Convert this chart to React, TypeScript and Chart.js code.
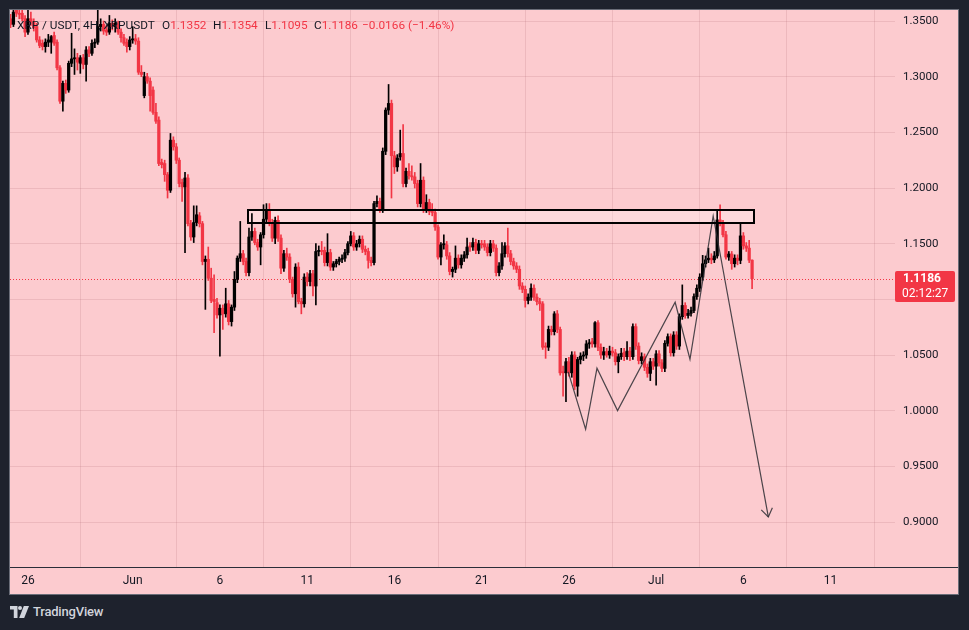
import React, { useEffect, useRef } from 'react';
import { Chart, registerables } from 'chart.js';

Chart.register(...registerables);

// XRP/USDT 4H bars as [open, high, low, close], oldest first (6 bars per day).
const lateMay = [
  [1.352, 1.356, 1.344, 1.347], [1.347, 1.362, 1.345, 1.358], [1.360, 1.364, 1.354, 1.357],
  [1.357, 1.360, 1.352, 1.356], [1.357, 1.360, 1.350, 1.352], [1.352, 1.355, 1.336, 1.340],
  [1.340, 1.362, 1.338, 1.352], [1.352, 1.358, 1.346, 1.349], [1.349, 1.352, 1.341, 1.344],
  [1.345, 1.348, 1.331, 1.333], [1.333, 1.336, 1.326, 1.328], [1.330, 1.333, 1.324, 1.327],
  [1.327, 1.334, 1.322, 1.331], [1.331, 1.338, 1.327, 1.333], [1.331, 1.337, 1.321, 1.336],
  [1.337, 1.340, 1.328, 1.330], [1.331, 1.333, 1.306, 1.308], [1.308, 1.310, 1.276, 1.278],
  [1.278, 1.296, 1.269, 1.294], [1.294, 1.297, 1.285, 1.288], [1.288, 1.314, 1.286, 1.312],
  [1.312, 1.339, 1.309, 1.316], [1.316, 1.325, 1.302, 1.317], [1.317, 1.321, 1.306, 1.313],
  [1.312, 1.319, 1.303, 1.317], [1.317, 1.320, 1.307, 1.311], [1.311, 1.327, 1.296, 1.324],
  [1.324, 1.327, 1.318, 1.321], [1.321, 1.333, 1.319, 1.330], [1.330, 1.334, 1.326, 1.331],
  [1.331, 1.362, 1.329, 1.345], [1.345, 1.352, 1.341, 1.347], [1.347, 1.350, 1.338, 1.341],
  [1.342, 1.346, 1.337, 1.340], [1.340, 1.355, 1.338, 1.348], [1.348, 1.351, 1.342, 1.345],
  [1.345, 1.352, 1.340, 1.348], [1.347, 1.350, 1.338, 1.340], [1.340, 1.343, 1.331, 1.335],
  [1.335, 1.338, 1.328, 1.330], [1.331, 1.334, 1.322, 1.327], [1.327, 1.336, 1.324, 1.333],
];

const earlyJune = [
  [1.333, 1.345, 1.330, 1.334], [1.334, 1.338, 1.329, 1.332], [1.332, 1.335, 1.302, 1.304],
  [1.304, 1.310, 1.300, 1.302], [1.283, 1.304, 1.281, 1.300], [1.300, 1.303, 1.294, 1.296],
  [1.296, 1.299, 1.269, 1.283], [1.288, 1.291, 1.266, 1.268], [1.268, 1.276, 1.258, 1.260],
  [1.261, 1.264, 1.220, 1.222], [1.223, 1.226, 1.218, 1.221], [1.222, 1.225, 1.206, 1.212],
  [1.212, 1.214, 1.191, 1.198], [1.198, 1.249, 1.196, 1.243], [1.243, 1.246, 1.234, 1.237],
  [1.237, 1.240, 1.222, 1.225], [1.225, 1.227, 1.201, 1.204], [1.205, 1.208, 1.188, 1.201],
  [1.201, 1.214, 1.142, 1.209], [1.209, 1.212, 1.166, 1.168], [1.168, 1.171, 1.153, 1.156],
  [1.156, 1.184, 1.151, 1.169], [1.169, 1.184, 1.166, 1.176], [1.175, 1.178, 1.165, 1.168],
  [1.168, 1.170, 1.131, 1.134], [1.134, 1.139, 1.091, 1.136], [1.136, 1.147, 1.117, 1.119],
  [1.119, 1.128, 1.097, 1.099], [1.100, 1.122, 1.070, 1.098], [1.097, 1.101, 1.083, 1.086],
  [1.086, 1.095, 1.049, 1.092], [1.092, 1.095, 1.073, 1.087], [1.087, 1.110, 1.084, 1.096],
  [1.096, 1.099, 1.077, 1.080], [1.080, 1.095, 1.076, 1.093], [1.093, 1.125, 1.090, 1.118],
  [1.118, 1.139, 1.115, 1.137], [1.137, 1.170, 1.134, 1.141], [1.141, 1.144, 1.131, 1.134],
  [1.134, 1.137, 1.121, 1.124],
];

const midJune = [
  [1.124, 1.164, 1.121, 1.156], [1.156, 1.177, 1.153, 1.161], [1.161, 1.164, 1.149, 1.151],
  [1.151, 1.154, 1.144, 1.147], [1.147, 1.160, 1.131, 1.158], [1.158, 1.185, 1.155, 1.172],
  [1.172, 1.186, 1.169, 1.180], [1.180, 1.186, 1.166, 1.169], [1.169, 1.172, 1.152, 1.155],
  [1.155, 1.174, 1.150, 1.171], [1.171, 1.175, 1.152, 1.155], [1.155, 1.158, 1.123, 1.128],
  [1.128, 1.144, 1.125, 1.141], [1.141, 1.146, 1.135, 1.138], [1.138, 1.141, 1.115, 1.118],
  [1.118, 1.120, 1.102, 1.105], [1.105, 1.132, 1.093, 1.129], [1.129, 1.133, 1.096, 1.098],
  [1.098, 1.101, 1.087, 1.096], [1.096, 1.123, 1.093, 1.120], [1.120, 1.124, 1.112, 1.116],
  [1.116, 1.126, 1.112, 1.123], [1.123, 1.126, 1.103, 1.112], [1.112, 1.150, 1.095, 1.143],
  [1.143, 1.148, 1.139, 1.144], [1.144, 1.152, 1.140, 1.143], [1.144, 1.147, 1.130, 1.133],
  [1.133, 1.159, 1.130, 1.142], [1.142, 1.145, 1.126, 1.129], [1.129, 1.134, 1.126, 1.132],
  [1.132, 1.136, 1.129, 1.134], [1.134, 1.138, 1.131, 1.136], [1.136, 1.140, 1.133, 1.137],
  [1.137, 1.145, 1.134, 1.142], [1.142, 1.152, 1.140, 1.150], [1.150, 1.161, 1.148, 1.157],
  [1.157, 1.160, 1.144, 1.147], [1.147, 1.153, 1.144, 1.150], [1.150, 1.157, 1.147, 1.154],
  [1.154, 1.157, 1.142, 1.145], [1.145, 1.148, 1.140, 1.143], [1.143, 1.146, 1.128, 1.135],
  [1.135, 1.138, 1.130, 1.133],
];

const juneRally = [
  [1.133, 1.188, 1.131, 1.186], [1.186, 1.193, 1.183, 1.188], [1.188, 1.191, 1.178, 1.181],
  [1.181, 1.236, 1.178, 1.233], [1.233, 1.272, 1.230, 1.270], [1.270, 1.293, 1.266, 1.276],
  [1.276, 1.279, 1.191, 1.229], [1.229, 1.233, 1.213, 1.219], [1.219, 1.230, 1.215, 1.227],
  [1.228, 1.252, 1.225, 1.231], [1.231, 1.257, 1.201, 1.204], [1.204, 1.218, 1.201, 1.215],
  [1.215, 1.222, 1.208, 1.211], [1.211, 1.220, 1.207, 1.210], [1.210, 1.214, 1.200, 1.204],
  [1.204, 1.207, 1.183, 1.186], [1.186, 1.222, 1.183, 1.207], [1.207, 1.210, 1.178, 1.181],
  [1.181, 1.194, 1.178, 1.187], [1.187, 1.190, 1.176, 1.179], [1.179, 1.186, 1.175, 1.178],
  [1.178, 1.181, 1.162, 1.165], [1.165, 1.167, 1.136, 1.138], [1.138, 1.151, 1.131, 1.149],
  [1.149, 1.158, 1.145, 1.150], [1.149, 1.152, 1.136, 1.139], [1.139, 1.142, 1.122, 1.125],
  [1.125, 1.129, 1.120, 1.127], [1.127, 1.148, 1.124, 1.137], [1.137, 1.140, 1.128, 1.131],
  [1.131, 1.140, 1.128, 1.137], [1.137, 1.143, 1.134, 1.140], [1.140, 1.155, 1.137, 1.147],
  [1.148, 1.151, 1.143, 1.147], [1.147, 1.155, 1.144, 1.151], [1.151, 1.154, 1.141, 1.144],
  [1.144, 1.153, 1.141, 1.150], [1.150, 1.153, 1.146, 1.149], [1.150, 1.153, 1.144, 1.147],
  [1.147, 1.150, 1.139, 1.142], [1.142, 1.153, 1.139, 1.150], [1.150, 1.153, 1.143, 1.146],
  [1.146, 1.149, 1.121, 1.124], [1.124, 1.133, 1.121, 1.130],
];

const lateJune = [
  [1.130, 1.151, 1.127, 1.141], [1.141, 1.151, 1.138, 1.148], [1.148, 1.164, 1.138, 1.141],
  [1.141, 1.144, 1.131, 1.134], [1.134, 1.137, 1.127, 1.130], [1.130, 1.133, 1.124, 1.127],
  [1.127, 1.130, 1.109, 1.112], [1.112, 1.115, 1.106, 1.109], [1.109, 1.112, 1.093, 1.099],
  [1.099, 1.105, 1.096, 1.102], [1.102, 1.114, 1.099, 1.110], [1.110, 1.113, 1.099, 1.102],
  [1.102, 1.105, 1.095, 1.098], [1.098, 1.101, 1.090, 1.096], [1.096, 1.098, 1.055, 1.057],
  [1.058, 1.061, 1.047, 1.057], [1.057, 1.076, 1.054, 1.073], [1.073, 1.076, 1.068, 1.071],
  [1.071, 1.089, 1.068, 1.087], [1.087, 1.090, 1.070, 1.073], [1.073, 1.075, 1.032, 1.034],
  [1.035, 1.040, 1.013, 1.034], [1.034, 1.047, 1.008, 1.044], [1.044, 1.048, 1.031, 1.034],
  [1.034, 1.053, 1.030, 1.050], [1.050, 1.053, 1.019, 1.022], [1.022, 1.048, 1.013, 1.046],
  [1.046, 1.052, 1.042, 1.049], [1.049, 1.053, 1.045, 1.050], [1.050, 1.063, 1.047, 1.060],
  [1.060, 1.064, 1.056, 1.061], [1.062, 1.065, 1.057, 1.060], [1.060, 1.080, 1.057, 1.079],
  [1.079, 1.081, 1.054, 1.057], [1.057, 1.060, 1.047, 1.050], [1.050, 1.057, 1.046, 1.053],
  [1.053, 1.056, 1.048, 1.050], [1.050, 1.058, 1.047, 1.0535], [1.0535, 1.057, 1.049, 1.052],
  [1.052, 1.055, 1.041, 1.044], [1.044, 1.051, 1.034, 1.0485], [1.0485, 1.056, 1.046, 1.0515],
  [1.0525, 1.056, 1.045, 1.0485], [1.0485, 1.062, 1.046, 1.0535], [1.0535, 1.057, 1.045, 1.0485],
  [1.0485, 1.078, 1.046, 1.0755], [1.0755, 1.078, 1.055, 1.058], [1.058, 1.061, 1.042, 1.045],
  [1.045, 1.052, 1.042, 1.0485], [1.0485, 1.051, 1.036, 1.039], [1.039, 1.042, 1.030, 1.0335],
  [1.0335, 1.047, 1.027, 1.044], [1.044, 1.047, 1.037, 1.040], [1.040, 1.054, 1.023, 1.051],
  [1.051, 1.054, 1.040, 1.043], [1.043, 1.046, 1.035, 1.038],
];

const earlyJuly = [
  [1.038, 1.063, 1.035, 1.0605], [1.0605, 1.069, 1.058, 1.0665], [1.0665, 1.069, 1.049, 1.052],
  [1.052, 1.071, 1.049, 1.068], [1.068, 1.071, 1.055, 1.058], [1.058, 1.087, 1.055, 1.0845],
  [1.0845, 1.113, 1.082, 1.0945], [1.0945, 1.097, 1.083, 1.0855], [1.0855, 1.091, 1.083, 1.0875],
  [1.0875, 1.093, 1.085, 1.090], [1.090, 1.105, 1.088, 1.1025], [1.1025, 1.113, 1.100, 1.110],
  [1.110, 1.123, 1.107, 1.120], [1.120, 1.1395, 1.117, 1.132], [1.132, 1.139, 1.129, 1.1355],
  [1.1355, 1.146, 1.133, 1.137], [1.137, 1.141, 1.132, 1.1355], [1.1355, 1.143, 1.133, 1.139],
  [1.139, 1.180, 1.137, 1.1713], [1.1713, 1.185, 1.166, 1.168], [1.168, 1.171, 1.156, 1.158],
  [1.158, 1.161, 1.136, 1.138], [1.138, 1.143, 1.135, 1.1407], [1.1407, 1.143, 1.127, 1.132],
  [1.132, 1.140, 1.129, 1.137], [1.137, 1.140, 1.131, 1.135], [1.135, 1.168, 1.132, 1.157],
  [1.157, 1.160, 1.145, 1.148], [1.148, 1.151, 1.143, 1.146], [1.146, 1.153, 1.133, 1.1352],
  [1.1352, 1.1354, 1.1095, 1.1186],
];

const candles = [...lateMay, ...earlyJune, ...midJune, ...juneRally, ...lateJune, ...earlyJuly];

// Time axis in days since 25 May 00:00.
const BARS_PER_DAY = 6;
const DAY_MIN = -0.03;
const DAY_MAX = 50.69;
const dateTickDays = [1, 7, 12, 17, 22, 27, 32, 37, 42, 47];
const dateTickLabels = ['26', 'Jun', '6', '11', '16', '21', '26', 'Jul', '6', '11'];

const PRICE_MIN = 0.8596;
const PRICE_MAX = 1.3599;
const priceTicks = [0.9, 0.95, 1.0, 1.05, 1.1, 1.15, 1.2, 1.25, 1.3, 1.35];

// Drawn resistance zone and projected path.
const zoneDays = [13.62, 42.62];
const zonePrices = [1.1689, 1.1803];
const pathDays = [31.96, 32.96, 33.61, 34.79, 38.09, 38.94, 40.27, 43.43];
const pathPrices = [1.0348, 0.9833, 1.0381, 1.0001, 1.0974, 1.0462, 1.1749, 0.9046];

const countdown = '02:12:27';

const PINK = '#fccbcf';
const UP = '#000000';
const DOWN = '#f23645';
const TEXT = '#131722';
const GRID = 'rgba(160, 90, 100, 0.16)';
const FONT = 'Roboto, "Liberation Sans", sans-serif';

const last = candles[candles.length - 1];
const prev = candles[candles.length - 2];
const change = last[3] - prev[3];
const changePct = (change / prev[3]) * 100;
const signed = (v: number, d: number) => (v < 0 ? '\u2212' : '+') + Math.abs(v).toFixed(d);

const overlay = {
  id: 'overlay',
  beforeDatasetsDraw(chart: any) {
    const { ctx, chartArea: a, scales } = chart;
    const x = scales.x;
    const y = scales.y;
    ctx.save();
    const zx0 = x.getPixelForValue(zoneDays[0]);
    const zx1 = x.getPixelForValue(zoneDays[1]);
    const zy0 = y.getPixelForValue(zonePrices[1]);
    const zy1 = y.getPixelForValue(zonePrices[0]);
    ctx.fillStyle = 'rgba(255,255,255,0.28)';
    ctx.fillRect(zx0, zy0, zx1 - zx0, zy1 - zy0);

    const py = Math.round(y.getPixelForValue(last[3])) + 0.5;
    ctx.strokeStyle = DOWN;
    ctx.lineWidth = 1;
    ctx.setLineDash([1, 2]);
    ctx.beginPath();
    ctx.moveTo(a.left, py);
    ctx.lineTo(a.right, py);
    ctx.stroke();
    ctx.restore();
  },
  afterDatasetsDraw(chart: any) {
    const { ctx, scales } = chart;
    const x = scales.x;
    const y = scales.y;
    ctx.save();
    const zx0 = Math.round(x.getPixelForValue(zoneDays[0]));
    const zx1 = Math.round(x.getPixelForValue(zoneDays[1]));
    const zy0 = Math.round(y.getPixelForValue(zonePrices[1]));
    const zy1 = Math.round(y.getPixelForValue(zonePrices[0]));
    ctx.strokeStyle = '#000';
    ctx.lineWidth = 2;
    ctx.strokeRect(zx0, zy0, zx1 - zx0, zy1 - zy0);

    // arrow head at the end of the projected path
    const n = pathDays.length;
    const tx = x.getPixelForValue(pathDays[n - 1]);
    const ty = y.getPixelForValue(pathPrices[n - 1]);
    const fx = x.getPixelForValue(pathDays[n - 2]);
    const fy = y.getPixelForValue(pathPrices[n - 2]);
    const ang = Math.atan2(fy - ty, fx - tx);
    const len = 10;
    ctx.strokeStyle = 'rgba(45,45,50,0.85)';
    ctx.lineWidth = 1.2;
    ctx.beginPath();
    ctx.moveTo(tx + len * Math.cos(ang - 0.6), ty + len * Math.sin(ang - 0.6));
    ctx.lineTo(tx, ty);
    ctx.lineTo(tx + len * Math.cos(ang + 0.6), ty + len * Math.sin(ang + 0.6));
    ctx.stroke();
    ctx.restore();
  },
  afterDraw(chart: any) {
    const { ctx, chartArea: a, scales, width } = chart;
    const y = scales.y;
    ctx.save();
    ctx.fillStyle = '#2a2e39';
    ctx.fillRect(0, a.bottom, width, 1);

    const py = Math.round(y.getPixelForValue(last[3]));
    ctx.fillStyle = DOWN;
    ctx.beginPath();
    ctx.roundRect(a.right, py - 8, 60, 31, 2);
    ctx.fill();
    ctx.fillStyle = '#ffffff';
    ctx.textBaseline = 'middle';
    ctx.textAlign = 'left';
    ctx.font = `bold 12px ${FONT}`;
    ctx.fillText(last[3].toFixed(4), a.right + 8, py);
    ctx.font = `12px ${FONT}`;
    ctx.fillText(countdown, a.right + 7, py + 15);
    ctx.restore();
  },
};

export default function App() {
  const ref = useRef<HTMLCanvasElement>(null);

  useEffect(() => {
    const canvas = ref.current;
    if (!canvas) return;
    const colors = candles.map((c) => (c[3] >= c[0] ? UP : DOWN));
    const wicks = candles.map((c, i) => ({ x: i / BARS_PER_DAY, y: [c[2], c[1]] }));
    const bodies = candles.map((c, i) => ({ x: i / BARS_PER_DAY, y: [c[0], c[3]] }));
    const path = pathDays.map((d, i) => ({ x: d, y: pathPrices[i] }));

    const chart = new Chart(canvas, {
      type: 'bar',
      data: {
        datasets: [
          {
            type: 'line',
            data: path,
            borderColor: 'rgba(45,45,50,0.85)',
            borderWidth: 1.2,
            pointRadius: 0,
            tension: 0,
            fill: false,
            order: 0,
          },
          {
            type: 'bar',
            data: bodies,
            backgroundColor: colors,
            barThickness: 2.6,
            minBarLength: 1,
            borderWidth: 0,
            grouped: false,
            order: 1,
          },
          {
            type: 'bar',
            data: wicks,
            backgroundColor: colors,
            barThickness: 1,
            borderWidth: 0,
            grouped: false,
            order: 2,
          },
        ],
      } as any,
      options: {
        animation: false,
        responsive: false,
        maintainAspectRatio: false,
        devicePixelRatio: 1,
        events: [],
        layout: { padding: 0 },
        plugins: { legend: { display: false }, tooltip: { enabled: false } },
        scales: {
          x: {
            type: 'linear',
            min: DAY_MIN,
            max: DAY_MAX,
            offset: false,
            grid: { color: GRID, drawTicks: false },
            border: { display: false },
            afterBuildTicks: (s: any) => {
              s.ticks = dateTickDays.map((v) => ({ value: v }));
            },
            afterFit: (s: any) => {
              s.height = 27;
              s.paddingLeft = 0;
              s.paddingRight = 0;
            },
            ticks: {
              autoSkip: false,
              maxRotation: 0,
              padding: 7,
              color: TEXT,
              font: { family: FONT, size: 12 },
              callback: (_v: any, i: number) => dateTickLabels[i],
            },
          },
          y: {
            type: 'linear',
            position: 'right',
            min: PRICE_MIN,
            max: PRICE_MAX,
            grid: { color: GRID, drawTicks: false },
            border: { display: false },
            afterBuildTicks: (s: any) => {
              s.ticks = priceTicks.map((v) => ({ value: v }));
            },
            afterFit: (s: any) => {
              s.width = 63;
              s.paddingTop = 0;
              s.paddingBottom = 0;
            },
            ticks: {
              padding: 8,
              color: TEXT,
              font: { family: FONT, size: 11.5 },
              callback: (v: any) => Number(v).toFixed(4),
            },
          },
        },
      } as any,
      plugins: [overlay],
    });
    return () => chart.destroy();
  }, []);

  const legendStyle: React.CSSProperties = {
    position: 'absolute',
    top: 7,
    fontFamily: FONT,
    fontSize: 11.8,
    lineHeight: '16px',
    whiteSpace: 'nowrap',
    color: TEXT,
  };
  const red = { color: DOWN };

  return (
    <div
      style={{
        position: 'fixed',
        left: 0,
        top: 0,
        width: 969,
        height: 630,
        background: '#1e222d',
        overflow: 'hidden',
      }}
    >
      <div
        style={{
          position: 'absolute',
          left: 9,
          top: 9,
          width: 948,
          height: 584,
          border: '1px solid #6a6d78',
          background: PINK,
        }}
      >
        <canvas ref={ref} width={948} height={584} style={{ display: 'block', width: 948, height: 584 }} />
        <span style={{ ...legendStyle, left: 7 }}>XRP / USDT, 4H, XRPUSDT</span>
        <span style={{ ...legendStyle, left: 152 }}>
          O<span style={red}>{last[0].toFixed(4)}</span>
        </span>
        <span style={{ ...legendStyle, left: 203 }}>
          H<span style={red}>{last[1].toFixed(4)}</span>
        </span>
        <span style={{ ...legendStyle, left: 255 }}>
          L<span style={red}>{last[2].toFixed(4)}</span>
        </span>
        <span style={{ ...legendStyle, left: 304 }}>
          C<span style={red}>{last[3].toFixed(4)}</span>
        </span>
        <span style={{ ...legendStyle, left: 352, ...red }}>
          {signed(change, 4)} ({signed(changePct, 2)}%)
        </span>
      </div>
      <svg
        width="19"
        height="12"
        viewBox="0 0 19 12"
        style={{ position: 'absolute', left: 10, top: 606 }}
      >
        <path d="M0 0h7.5v12H3.8V3.4H0z" fill="#d1d4dc" />
        <circle cx="10" cy="2" r="2" fill="#d1d4dc" />
        <path d="M13.8 0H19l-4.8 12H9.2z" fill="#d1d4dc" />
      </svg>
      <span
        style={{
          position: 'absolute',
          left: 33,
          top: 604,
          fontFamily: FONT,
          fontSize: 13,
          fontWeight: 500,
          lineHeight: '16px',
          color: '#d1d4dc',
          letterSpacing: -0.2,
        }}
      >
        TradingView
      </span>
    </div>
  );
}
